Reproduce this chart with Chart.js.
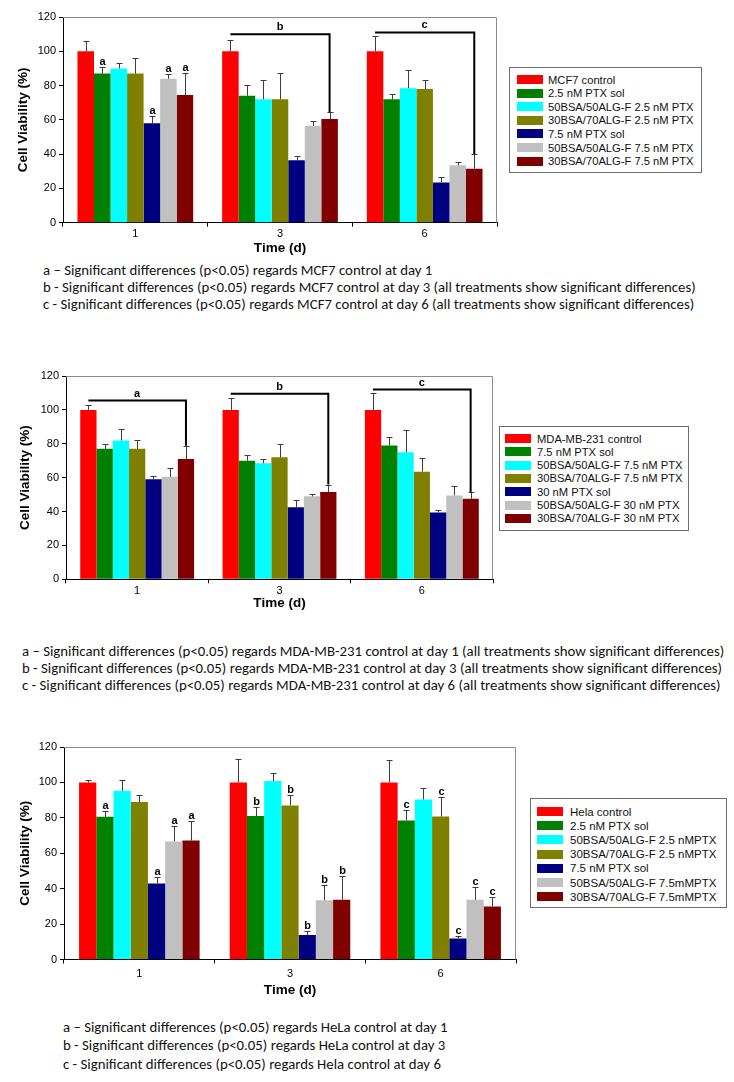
<!DOCTYPE html>
<html>
<head>
<meta charset="utf-8">
<script src="https://cdn.jsdelivr.net/npm/chart.js@4.4.0/dist/chart.umd.min.js"></script>
<style>
body { margin:0; background:#fff; width:734px; height:1082px; position:relative; overflow:hidden; font-family:"Liberation Sans", Arial, sans-serif; }
canvas { position:absolute; }
.legend { position:absolute; border:1px solid #6e6e6e; box-sizing:border-box; background:#fff; }
.legend span { position:absolute; white-space:nowrap; color:#111; line-height:14px; }
.legend i { position:absolute; width:26px; height:9px; }
.note { position:absolute; font-family:Carlito, Lato, sans-serif; font-size:14.8px; line-height:16px; white-space:nowrap; color:#111; }
</style>
</head>
<body>
<canvas id="mcf7" width="510" height="256" style="left:0;top:0"></canvas>
<canvas id="mda" width="506" height="271" style="left:0;top:340px"></canvas>
<canvas id="hela" width="530" height="298" style="left:0;top:700px"></canvas>

<script>
// shared
var days = ['1', '3', '6'];
var colors = ['#ff0000', '#008000', '#00ffff', '#808000', '#000080', '#c0c0c0', '#800000'];

// MCF7
var mcf7Names = ['MCF7 control', '2.5 nM PTX sol', '50BSA/50ALG-F 2.5 nM PTX', '30BSA/70ALG-F 2.5 nM PTX',
  '7.5 nM PTX sol', '50BSA/50ALG-F 7.5 nM PTX', '30BSA/70ALG-F 7.5 nM PTX'];
var mcf7Means = [[100, 100, 100], [87, 74, 72], [90, 72, 78.5], [87, 72, 78], [58, 36.5, 23.5], [84, 56.5, 33.5], [74.5, 60.5, 31.5]];
var mcf7Sd = [[6, 6.8, 8.9], [4.1, 6.1, 3.1], [3, 11.5, 10.3], [9, 15.6, 5], [4, 2.4, 3], [3, 2.7, 2.2], [13, 4, 8.5]];
var mcf7Marks = [['', '', ''], ['a', '', ''], ['', '', ''], ['', '', ''], ['a', '', ''], ['a', '', ''], ['a', '', '']];
var mcf7Brackets = [{ day: 1, letter: 'b', level: 110 }, { day: 2, letter: 'c', level: 111 }];
var mcf7Notes = [
  'a \u2013 Significant differences (p<0.05) regards MCF7 control at day 1',
  'b - Significant differences (p<0.05) regards MCF7 control at day 3 (all treatments show significant differences)',
  'c - Significant differences (p<0.05) regards MCF7 control at day 6 (all treatments show significant differences)'
];

// MDA-MB-231
var mdaNames = ['MDA-MB-231 control', '7.5 nM PTX sol', '50BSA/50ALG-F 7.5 nM PTX', '30BSA/70ALG-F 7.5 nM PTX',
  '30 nM PTX sol', '50BSA/50ALG-F 30 nM PTX', '30BSA/70ALG-F 30 nM PTX'];
var mdaMeans = [[100, 100, 100], [77, 70, 79], [82, 68.5, 75], [77, 72, 63.5], [59, 42.5, 39.5], [60.5, 49, 49.5], [71, 51.5, 47.5]];
var mdaSd = [[2.8, 7.2, 10.1], [3, 3.3, 5], [6.7, 2.5, 13], [5, 8, 8.2], [2, 4.4, 1.4], [5.3, 1.2, 5.4], [7.8, 4.4, 3.9]];
var mdaMarks = [['', '', ''], ['', '', ''], ['', '', ''], ['', '', ''], ['', '', ''], ['', '', ''], ['', '', '']];
var mdaBrackets = [{ day: 0, letter: 'a', level: 105.5 }, { day: 1, letter: 'b', level: 109.5 }, { day: 2, letter: 'c', level: 112 }];
var mdaNotes = [
  'a \u2013 Significant differences (p<0.05) regards MDA-MB-231 control at day 1 (all treatments show significant differences)',
  'b - Significant differences (p<0.05) regards MDA-MB-231 control at day 3 (all treatments show significant differences)',
  'c - Significant differences (p<0.05) regards MDA-MB-231 control at day 6 (all treatments show significant differences)'
];

// HeLa
var helaNames = ['Hela control', '2.5 nM PTX sol', '50BSA/50ALG-F 2.5 nMPTX', '30BSA/70ALG-F 2.5 nMPTX',
  '7.5 nM PTX sol', '50BSA/50ALG-F 7.5mMPTX', '30BSA/70ALG-F 7.5mMPTX'];
var helaMeans = [[100, 100, 100], [80.6, 81, 78.5], [95.3, 100.8, 90.4], [88.9, 87, 80.8], [42.9, 13.9, 11.9], [66.7, 33.4, 33.7], [67.2, 33.8, 30]];
var helaSd = [[1.5, 13.2, 12.8], [3.2, 5.1, 6.1], [6.2, 4.5, 6.4], [3.9, 6, 11.1], [3.6, 2.1, 1.3], [8.8, 8.7, 7.2], [11.1, 13.2, 5.4]];
var helaMarks = [['', '', ''], ['a', 'b', 'c'], ['', '', ''], ['', 'b', 'c'], ['a', 'b', 'c'], ['a', 'b', 'c'], ['a', 'b', 'c']];
var helaBrackets = [];
var helaNotes = [
  'a \u2013 Significant differences (p<0.05) regards HeLa control at day 1',
  'b - Significant differences (p<0.05) regards HeLa control at day 3',
  'c - Significant differences (p<0.05) regards Hela control at day 6'
];

var yTicks = [0, 20, 40, 60, 80, 100, 120];
var font = '"Liberation Sans", Arial, sans-serif';

// error bars, letters, brackets and the grey frame
function overlay(sd, marks, brackets) {
  return {
    id: 'overlay',
    afterDatasetsDraw: function(chart) {
      var ctx = chart.ctx, y = chart.scales.y, a = chart.chartArea;
      var last = chart.data.datasets.length - 1;
      ctx.save();
      ctx.font = 'bold 11px ' + font;
      ctx.textAlign = 'center';
      ctx.fillStyle = '#000';
      chart.data.datasets.forEach(function(ds, i) {
        chart.getDatasetMeta(i).data.forEach(function(bar, j) {
          var top = Math.round(y.getPixelForValue(ds.data[j] + sd[i][j])) + 0.5;
          var x = Math.round(bar.x) + 0.5;
          ctx.strokeStyle = '#3c3c3c';
          ctx.lineWidth = 1;
          ctx.beginPath();
          ctx.moveTo(x, bar.y);
          ctx.lineTo(x, top);
          ctx.moveTo(x - 3, top);
          ctx.lineTo(x + 3, top);
          ctx.stroke();
          if (marks[i][j]) ctx.fillText(marks[i][j], x, top - 3);
        });
      });
      brackets.forEach(function(b) {
        var p0 = chart.getDatasetMeta(0).data[b.day];
        var p1 = chart.getDatasetMeta(last).data[b.day];
        var ly = y.getPixelForValue(b.level);
        var endY = y.getPixelForValue(chart.data.datasets[last].data[b.day] + sd[last][b.day]);
        ctx.strokeStyle = '#000';
        ctx.lineWidth = 2;
        ctx.beginPath();
        ctx.moveTo(p0.x, ly);
        ctx.lineTo(p1.x, ly);
        ctx.lineTo(p1.x, endY);
        ctx.stroke();
        ctx.fillText(b.letter, (p0.x + p1.x) / 2, ly - 4);
      });
      ctx.strokeStyle = '#8c8c8c';
      ctx.lineWidth = 1;
      ctx.beginPath();
      ctx.moveTo(a.left, a.top + 0.5);
      ctx.lineTo(a.right - 0.5, a.top + 0.5);
      ctx.lineTo(a.right - 0.5, a.bottom);
      ctx.stroke();
      ctx.restore();
    }
  };
}

function makeChart(id, names, means, sd, marks, brackets, lay) {
  var datasets = names.map(function(n, i) {
    return { label: n, data: means[i], backgroundColor: colors[i], borderWidth: 0,
      categoryPercentage: 0.8, barPercentage: 1 };
  });
  return new Chart(document.getElementById(id), {
    type: 'bar',
    data: { labels: days, datasets: datasets },
    plugins: [overlay(sd, marks, brackets)],
    options: {
      responsive: false,
      animation: false,
      devicePixelRatio: 1,
      layout: { padding: lay.pad },
      plugins: { legend: { display: false }, tooltip: { enabled: false } },
      scales: {
        x: {
          grid: { drawOnChartArea: false, tickLength: 4, color: '#000' },
          border: { color: '#000' },
          ticks: { color: '#000', padding: lay.tickPad, font: { family: font, size: 11 } },
          title: { display: true, text: 'Time (d)', color: '#000', padding: 0,
            font: { family: font, size: 13.5, weight: 'bold' } },
          afterFit: function(s) { s.height = lay.xHeight; }
        },
        y: {
          min: 0, max: 120,
          afterBuildTicks: function(s) { s.ticks = yTicks.map(function(v) { return { value: v }; }); },
          grid: { drawOnChartArea: false, tickLength: 4, color: '#000' },
          border: { color: '#000' },
          ticks: { color: '#000', padding: 3, font: { family: font, size: 11 } },
          title: { display: true, text: 'Cell Viability (%)', color: '#000', padding: 0,
            font: { family: font, size: 13.5, weight: 'bold' } },
          afterFit: function(s) { s.width = lay.yWidth; }
        }
      }
    }
  });
}

function makeLegend(names, box) {
  var d = document.createElement('div');
  d.className = 'legend';
  d.style.left = box.x + 'px'; d.style.top = box.y + 'px';
  d.style.width = box.w + 'px'; d.style.height = box.h + 'px';
  names.forEach(function(n, i) {
    var cy = box.first + i * box.step;
    var sw = document.createElement('i');
    sw.style.left = box.sx + 'px'; sw.style.top = (cy - 5) + 'px';
    sw.style.background = colors[i];
    var t = document.createElement('span');
    t.textContent = n;
    t.style.left = box.tx + 'px'; t.style.top = (cy - 7.5) + 'px';
    t.style.fontSize = box.fs + 'px';
    d.appendChild(sw); d.appendChild(t);
  });
  document.body.appendChild(d);
}

function makeNotes(lines, x, ys) {
  lines.forEach(function(s, i) {
    var p = document.createElement('div');
    p.className = 'note';
    p.textContent = s;
    p.style.left = x + 'px';
    p.style.top = (ys[i] - 8) + 'px';
    document.body.appendChild(p);
  });
}

makeChart('mcf7', mcf7Names, mcf7Means, mcf7Sd, mcf7Marks, mcf7Brackets,
  { pad: { left: 15, top: 17, right: 13, bottom: 0 }, yWidth: 48, xHeight: 33.3, tickPad: 1 });
makeChart('mda', mdaNames, mdaMeans, mdaSd, mdaMarks, mdaBrackets,
  { pad: { left: 17, top: 36, right: 13, bottom: 0 }, yWidth: 49, xHeight: 31.7, tickPad: 1 });
makeChart('hela', helaNames, helaMeans, helaSd, helaMarks, helaBrackets,
  { pad: { left: 17, top: 47, right: 14, bottom: 0 }, yWidth: 47, xHeight: 38.5, tickPad: 4 });

makeLegend(mcf7Names, { x: 509, y: 67, w: 193, h: 106, sx: 7, tx: 38, first: 12, step: 13.6, fs: 11.2 });
makeLegend(mdaNames, { x: 499, y: 426, w: 190, h: 105, sx: 5, tx: 37, first: 12, step: 13.3, fs: 11.2 });
makeLegend(helaNames, { x: 530, y: 798, w: 197, h: 110, sx: 6, tx: 39, first: 13, step: 14.2, fs: 11.5 });

makeNotes(mcf7Notes, 43, [270, 287, 304]);
makeNotes(mdaNotes, 22, [651, 668, 685]);
makeNotes(helaNotes, 63, [1027, 1045, 1064]);
</script>
</body>
</html>
